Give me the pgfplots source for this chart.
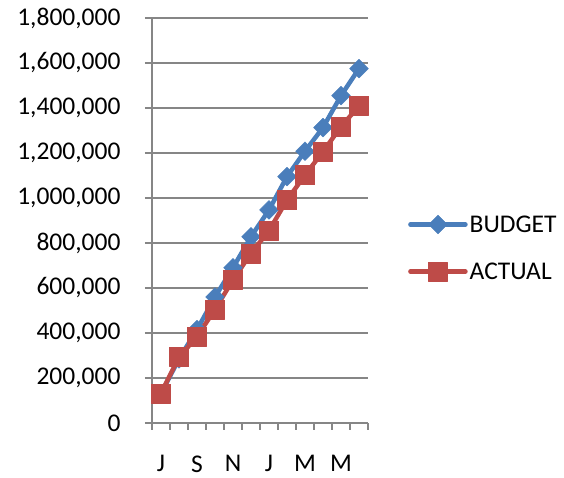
\documentclass[border=0pt]{standalone}
\usepackage{fontspec}
\setmainfont{Carlito}
\usepackage{pgfplots}
\pgfplotsset{compat=1.18}
\definecolor{budget}{HTML}{4A7EBB}
\definecolor{actual}{HTML}{BE4B48}
\definecolor{gridgray}{HTML}{868686}

\pgfplotstableread{
m budget actual
1 130000 132000
2 285000 293000
3 415000 384000
4 560000 505000
5 690000 636000
6 828000 754000
7 947000 855000
8 1095000 991000
9 1208000 1102000
10 1313000 1206000
11 1455000 1317000
12 1575000 1409000
}\datatable

\begin{document}
\begin{tikzpicture}
\path[use as bounding box] (0,0) rectangle (564pt,478pt);
\begin{axis}[
    at={(152pt,55pt)}, anchor=south west,
    scale only axis, width=216pt, height=405pt,
    xmin=0.5, xmax=12.5, ymin=0, ymax=1800000,
    axis x line*=bottom, axis y line*=left,
    axis line style={draw=gridgray, line width=1.2pt, -},
    xtick={1,3,5,7,9,11},
    xticklabels={J,S,N,J,M,M},
    xtick style={draw=none},
    extra x ticks={0.5,1.5,2.5,3.5,4.5,5.5,6.5,7.5,8.5,9.5,10.5,11.5,12.5},
    extra x tick labels={},
    extra x tick style={xtick style={draw=gridgray, line width=1.2pt}},
    ytick={0,200000,400000,600000,800000,1000000,1200000,1400000,1600000,1800000},
    ytick style={draw=gridgray, line width=1.2pt},
    tick align=outside, major tick length=7pt,
    ymajorgrids, grid style={draw=gridgray, line width=1.2pt},
    scaled y ticks=false,
    /pgf/number format/assume math mode=true,
    yticklabel style={/pgf/number format/fixed, /pgf/number format/precision=0,
        /pgf/number format/1000 sep={,}, xshift=-21pt},
    tick label style={font=\fontsize{25.5}{30}\selectfont},
    xticklabel style={yshift=-22pt},
    legend style={at={(1,0.432)}, anchor=west, xshift=40pt, draw=none, fill=none,
        font=\fontsize{25.5}{30}\selectfont, row sep=25pt, inner sep=0pt,
        nodes={inner sep=2pt}},
    legend cell align=left,
    legend image code/.code={\draw[#1, mark repeat=2, mark phase=2]
        plot coordinates {(0pt,0pt) (27.5pt,0pt) (55pt,0pt)};},
    clip=false,
]
\addplot[color=budget, line width=4.5pt, line join=round, line cap=round,
    mark=square*, mark size=6.6pt,
    mark options={rotate=45, solid, fill=budget, draw=budget, line width=0.5pt}]
    table[x=m, y=budget] {\datatable};
\addlegendentry{BUDGET}
\addplot[color=actual, line width=4.5pt, line join=round, line cap=round,
    mark=square*, mark size=9.5pt,
    mark options={solid, fill=actual, draw=actual, line width=0.5pt}]
    table[x=m, y=actual] {\datatable};
\addlegendentry{ACTUAL}
\end{axis}
\end{tikzpicture}
\end{document}
